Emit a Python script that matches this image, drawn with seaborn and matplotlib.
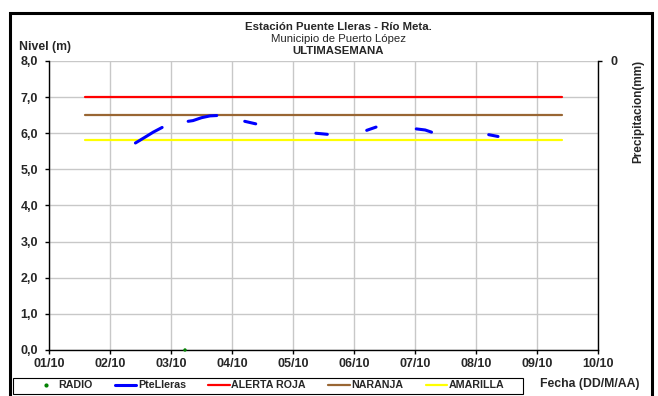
import pandas as pd
import seaborn as sns
import matplotlib.pyplot as plt
import matplotlib.dates as mdates
from matplotlib.lines import Line2D
from matplotlib.patches import Rectangle

# Nivel registrado por la estacion PteLleras (tramos separados por huecos de datos)
tramo_pte = [1, 1, 1, 1, 2, 2, 2, 2, 2, 3, 3, 4, 4, 5, 5, 6, 6, 6, 7, 7]
fecha_pte = ['2014-10-02 10:00', '2014-10-02 14:00', '2014-10-02 17:00', '2014-10-02 20:30',
             '2014-10-03 06:45', '2014-10-03 08:40', '2014-10-03 12:00', '2014-10-03 15:20', '2014-10-03 18:00',
             '2014-10-04 05:00', '2014-10-04 09:20',
             '2014-10-05 09:00', '2014-10-05 13:30',
             '2014-10-06 05:00', '2014-10-06 08:40',
             '2014-10-07 00:30', '2014-10-07 04:00', '2014-10-07 06:30',
             '2014-10-08 05:00', '2014-10-08 08:40']
nivel_pte = [5.73, 5.90, 6.03, 6.16,
             6.33, 6.35, 6.43, 6.48, 6.49,
             6.33, 6.26,
             6.00, 5.97,
             6.08, 6.17,
             6.12, 6.09, 6.03,
             5.96, 5.91]

# Dato de la estacion RADIO
fecha_radio = ['2014-10-03 05:30']
nivel_radio = [0.0]

# Umbrales de alerta
umbral_nombres = ['ALERTA ROJA', 'NARANJA', 'AMARILLA']
umbral_valores = [7.0, 6.5, 5.8]
umbral_inicio = '2014-10-01 14:00'
umbral_fin = '2014-10-09 10:00'
umbral_colores = {'ALERTA ROJA': '#FF0000', 'NARANJA': '#996633', 'AMARILLA': '#FFFF00'}

ytick_vals = [0, 1, 2, 3, 4, 5, 6, 7, 8]
ytick_labels = ['0,0', '1,0', '2,0', '3,0', '4,0', '5,0', '6,0', '7,0', '8,0']

df_pte = pd.DataFrame({'fecha': pd.to_datetime(fecha_pte), 'nivel': nivel_pte, 'tramo': tramo_pte})
df_radio = pd.DataFrame({'fecha': pd.to_datetime(fecha_radio), 'nivel': nivel_radio})
df_umbral = pd.DataFrame({
    'nombre': [n for n in umbral_nombres for _ in range(2)],
    'fecha': pd.to_datetime([umbral_inicio, umbral_fin] * len(umbral_nombres)),
    'nivel': [v for v in umbral_valores for _ in range(2)],
})

sns.set_theme(style='white')
plt.rcParams['font.family'] = ['Liberation Sans', 'DejaVu Sans']

fig = plt.figure(figsize=(6.58, 3.96), dpi=100)
ax = fig.add_axes([0.0745, 0.1162, 0.8343, 0.7298])

# lineas de umbral
sns.lineplot(data=df_umbral, x='fecha', y='nivel', hue='nombre', palette=umbral_colores,
             linewidth=1.6, legend=False, ax=ax)
# nivel PteLleras
sns.lineplot(data=df_pte, x='fecha', y='nivel', units='tramo', estimator=None,
             color='#0000FF', linewidth=2.2, legend=False, ax=ax)
# RADIO
sns.scatterplot(data=df_radio, x='fecha', y='nivel', color='#008000', s=6,
                edgecolor='none', clip_on=False, zorder=5, ax=ax)

ax.set_xlim(pd.Timestamp('2014-10-01'), pd.Timestamp('2014-10-10'))
ax.set_ylim(0, 8)
ax.xaxis.set_major_locator(mdates.DayLocator())
ax.xaxis.set_major_formatter(mdates.DateFormatter('%d/%m'))
ax.set_yticks(ytick_vals)
ax.set_yticklabels(ytick_labels)
ax.set_xlabel('')
ax.set_ylabel('')
ax.grid(True, color='#C8C8C8', linewidth=1.0)
ax.set_axisbelow(True)
for side in ['top', 'right']:
    ax.spines[side].set_visible(False)
for side in ['left', 'bottom']:
    ax.spines[side].set_color('black')
    ax.spines[side].set_linewidth(1.0)
ax.tick_params(axis='both', direction='out', length=3, width=1, color='black',
               labelsize=9, left=True, bottom=True)
ax.tick_params(axis='y', pad=5)
ax.tick_params(axis='x', pad=3)
for lbl in ax.get_xticklabels() + ax.get_yticklabels():
    lbl.set_fontweight('bold')

# eje secundario de precipitacion (invertido)
ax2 = ax.twinx()
ax2.set_ylim(10, 0)
ax2.set_yticks([0])
ax2.set_yticklabels(['0'], fontweight='bold')
ax2.tick_params(axis='y', direction='out', length=3, width=1, color='black', labelsize=9, pad=6, right=True)
for side in ['top', 'left', 'bottom']:
    ax2.spines[side].set_visible(False)
ax2.spines['right'].set_color('black')
ax2.spines['right'].set_linewidth(1.0)
ax2.set_ylabel('Precipitacion(mm)', fontsize=8.5, fontweight='bold', rotation=90)
ax2.yaxis.set_label_coords(1.062, 0.827)

# titulos
fig.text(0.514, 0.932, 'Estación Puente Lleras - Río Meta.', ha='center', va='center',
         fontsize=8.2, fontweight='bold')
fig.text(0.514, 0.901, 'Municipio de Puerto López', ha='center', va='center', fontsize=8.2)
fig.text(0.514, 0.872, 'ULTIMASEMANA', ha='center', va='center', fontsize=8.2, fontweight='bold')
fig.text(0.069, 0.881, 'Nivel (m)', ha='center', va='center', fontsize=8.8, fontweight='bold')
fig.text(0.897, 0.031, 'Fecha (DD/M/AA)', ha='center', va='center', fontsize=8.8, fontweight='bold')

# leyenda
handles = [
    Line2D([], [], color='#008000', marker='o', linestyle='', markersize=2),
    Line2D([], [], color='#0000FF', linewidth=2.2),
    Line2D([], [], color=umbral_colores['ALERTA ROJA'], linewidth=1.6),
    Line2D([], [], color=umbral_colores['NARANJA'], linewidth=1.6),
    Line2D([], [], color=umbral_colores['AMARILLA'], linewidth=1.6),
]
labels = ['RADIO', 'PteLleras'] + umbral_nombres
leg = fig.legend(handles, labels, loc='center', bbox_to_anchor=(0.41, 0.027),
                 ncol=5, fontsize=7.7, frameon=False,
                 handlelength=2.0, handletextpad=0.15, borderpad=0, borderaxespad=0,
                 columnspacing=2.1)
for t in leg.get_texts():
    t.set_fontweight('bold')
fig.patches.append(Rectangle((0.0198, 0.006), 0.775, 0.040, transform=fig.transFigure,
                             fill=False, edgecolor='black', linewidth=0.8))

# marco exterior
fig.patches.append(Rectangle((0.0145, -0.01), 0.977, 0.978, transform=fig.transFigure,
                             fill=False, edgecolor='black', linewidth=2.2))

fig.savefig('out.png', dpi=100)
